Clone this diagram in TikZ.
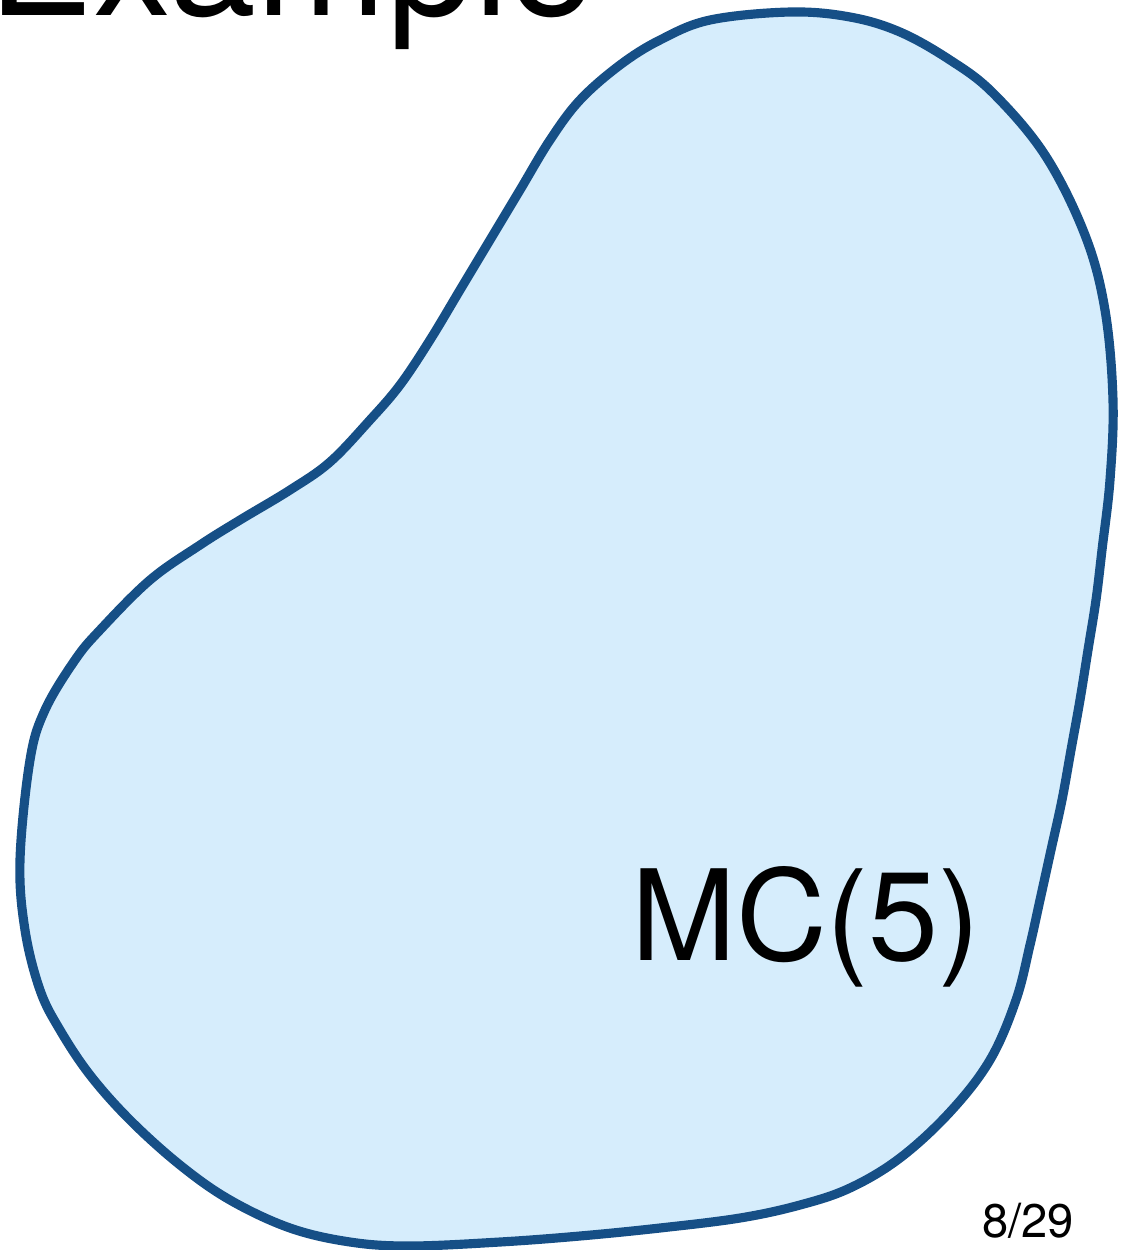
\documentclass[tikz,border=0pt]{standalone}
\usepackage{fontspec}
\setmainfont{TeX Gyre Heros}
\usepackage{tikz}
\definecolor{mBlue}{HTML}{164F86}
\definecolor{mSky}{HTML}{D6EDFC}
\tikzset{
  blob/.style={draw=mBlue, fill=mSky, line width=2.6pt, line join=round},
  slidetitle/.style={inner sep=0pt, font=\fontsize{44.5}{52}\selectfont},
  setlabel/.style={inner sep=0pt, font=\fontsize{35.8}{43}\selectfont},
  pagenum/.style={inner sep=0pt, font=\fontsize{13.4}{16}\selectfont},
}

\begin{document}
\begin{tikzpicture}[x=0.01cm, y=-0.01cm]
  \useasboundingbox (0,0) rectangle (1131,1250);
  \clip (0,0) rectangle (1131,1250);
  \draw[blob] plot[smooth cycle, tension=0.6] coordinates {
    (790,12) (850,17) (900,32) (950,60) (993,93) (1045,155) (1085,235)
    (1105,310) (1113,400) (1110,480) (1102,550) (1096,600) (1088,650)
    (1080,700) (1071,750) (1062,800) (1051,850) (1040,900) (1030,945)
    (1016,1000) (990,1060) (950,1112) (900,1158) (850,1188) (800,1205)
    (740,1218) (660,1228) (580,1236) (500,1242) (410,1246) (350,1242)
    (290,1228) (230,1200) (180,1165) (130,1120) (90,1075) (60,1030)
    (40,990) (25,930) (20,860) (30,760) (45,710) (75,660) (100,630)
    (150,580) (200,545) (240,520) (290,490) (330,462) (370,420) (400,385)
    (430,340) (460,290) (490,240) (520,190) (550,140) (580,100) (620,65)
    (660,40) (710,20)};
  \node[slidetitle, anchor=base west] (title) at (-12,15) {Example};
  \node[setlabel, anchor=base] (mc) at (806,960) {MC(5)};
  \node[pagenum, anchor=base] (page) at (1028,1237) {8/29};
\end{tikzpicture}
\end{document}
